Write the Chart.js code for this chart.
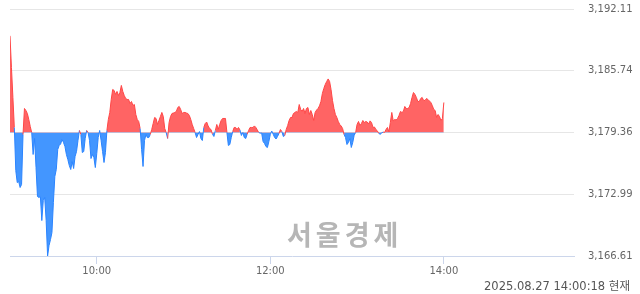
<!DOCTYPE html>
<html lang="ko">
<head>
<meta charset="UTF-8" />
<title>코스피 장중 차트</title>
<style>
  * { box-sizing: border-box; }
  body {
    margin: 0;
    background: #fff;
  }
  #wrap {
    position: relative;
    width: 640px;
    height: 294px;
  }
  #chart {
    position: absolute;
    left: 0;
    top: 0;
  }
  #watermark {
    position: absolute;
    left: 287px;
    top: 220px;
    font-family: 'Noto Sans CJK KR', sans-serif;
    font-weight: 700;
    font-size: 27px;
    letter-spacing: 4px;
    line-height: 28px;
    color: #b6b6b6;
    white-space: nowrap;
  }
  #stamp {
    position: absolute;
    right: 10px;
    top: 279px;
    font-family: 'DejaVu Sans', 'Noto Sans CJK KR', sans-serif;
    font-size: 11.5px;
    line-height: 14px;
    color: #555;
    white-space: nowrap;
  }
</style>
</head>
<body>
<div id="wrap">
  <canvas id="chart" width="640" height="294"></canvas>
  <div id="watermark">서울경제</div>
  <div id="stamp">2025.08.27 14:00:18 현재</div>
</div>

<script src="https://cdn.jsdelivr.net/npm/chart.js"></script>
<script>
  // 전일 종가 (기준선)
  const baseline = 3179.36;

  // 09:00 부터 1분 간격 지수 값 (09:00 ~ 14:00)
  const values = [
    3189.34, 3186.07, 3182.98, 3179.88, 3175.43, 3174.19, 3174.30, 3173.68, 3173.99, 3179.15,
    3181.84, 3181.63, 3181.32, 3180.70, 3179.98, 3179.36, 3177.09, 3178.74, 3175.74, 3172.75,
    3172.65, 3172.75, 3170.27, 3172.34, 3172.65, 3170.27, 3166.61, 3167.69, 3168.31, 3169.03,
    3172.13, 3174.81, 3175.54, 3177.60, 3178.02, 3178.17, 3178.64, 3178.33, 3177.91, 3177.09,
    3176.57, 3175.95, 3175.54, 3176.36, 3175.64, 3176.88, 3177.40, 3178.53, 3179.57, 3179.15,
    3177.29, 3177.40, 3178.74, 3179.57, 3179.36, 3178.53, 3176.67, 3177.09, 3176.78, 3175.74,
    3177.19, 3178.84, 3179.57, 3178.53, 3177.40, 3176.26, 3177.29, 3179.57, 3180.70, 3181.43,
    3182.77, 3183.80, 3183.70, 3183.29, 3183.60, 3183.18, 3183.49, 3184.22, 3183.60, 3183.18,
    3182.87, 3182.77, 3182.77, 3182.36, 3182.56, 3182.15, 3182.25, 3181.22, 3180.70, 3180.50,
    3179.77, 3177.60, 3175.85, 3178.53, 3179.15, 3178.84, 3178.84, 3179.15, 3179.67, 3180.29,
    3180.91, 3180.81, 3180.19, 3180.60, 3181.01, 3181.43, 3181.01, 3179.77, 3179.36, 3178.74,
    3180.39, 3181.01, 3181.32, 3181.37, 3181.43, 3181.53, 3181.94, 3182.05, 3181.74, 3181.32,
    3181.43, 3181.43, 3181.37, 3181.32, 3181.12, 3180.70, 3180.19, 3179.77, 3179.36, 3178.84,
    3179.15, 3179.46, 3178.74, 3178.53, 3179.88, 3180.29, 3180.44, 3180.04, 3179.77, 3179.67,
    3179.18, 3178.95, 3179.57, 3180.19, 3179.67, 3180.19, 3180.60, 3180.81, 3180.81, 3180.81,
    3179.36, 3178.02, 3178.12, 3178.84, 3179.46, 3179.88, 3179.88, 3179.67, 3179.88, 3179.62,
    3179.05, 3179.36, 3178.84, 3178.74, 3179.18, 3179.57, 3179.88, 3179.88, 3179.88, 3180.04,
    3179.88, 3179.62, 3179.36, 3179.29, 3179.31, 3178.43, 3178.22, 3177.91, 3177.81, 3178.43,
    3179.15, 3179.51, 3179.18, 3178.84, 3178.69, 3178.95, 3179.26, 3179.67, 3179.46, 3178.95,
    3179.05, 3179.67, 3180.08, 3180.60, 3180.91, 3180.91, 3181.32, 3181.43, 3181.53, 3181.43,
    3182.25, 3181.74, 3181.53, 3181.84, 3181.32, 3181.84, 3181.94, 3181.22, 3181.63, 3181.22,
    3180.60, 3181.43, 3181.68, 3181.84, 3182.11, 3182.56, 3183.39, 3183.91, 3184.32, 3184.63,
    3184.89, 3184.63, 3183.80, 3182.67, 3181.84, 3181.22, 3180.91, 3180.50, 3180.19, 3180.03,
    3179.77, 3179.15, 3178.84, 3178.12, 3178.33, 3178.74, 3177.81, 3178.33, 3179.08, 3179.36,
    3180.19, 3180.50, 3180.08, 3180.29, 3180.60, 3180.39, 3180.50, 3180.44, 3180.24, 3180.56,
    3180.39, 3179.88, 3179.93, 3179.67, 3179.53, 3179.26, 3179.18, 3179.31, 3179.41, 3179.36,
    3179.67, 3179.88, 3179.42, 3180.39, 3181.43, 3180.56, 3180.70, 3180.66, 3180.81, 3181.12,
    3181.53, 3181.43, 3181.53, 3182.05, 3181.84, 3181.84, 3181.94, 3182.36, 3182.98, 3183.49,
    3183.29, 3182.98, 3182.56, 3182.56, 3182.87, 3182.98, 3182.67, 3182.67, 3182.87, 3182.77,
    3182.62, 3182.46, 3182.15, 3181.74, 3181.63, 3180.91, 3181.22, 3181.01, 3180.60, 3180.81,
    3182.46
  ];

  // x축: 09:00 기준 분 단위 (장 마감 15:30 = 390분)
  const sessionMinutes = 390;
  const xTicks = [60, 180, 300];
  const xTickLabels = ['10:00', '12:00', '14:00'];

  // y축 눈금
  const yTicks = [3166.61, 3172.99, 3179.36, 3185.74, 3192.11];

  const RED_FILL = '#ff6464';
  const RED_LINE = '#ff4646';
  const BLUE_FILL = '#4396ff';
  const BLUE_LINE = '#2a84ff';

  Chart.defaults.font.family = "'DejaVu Sans', sans-serif";
  Chart.defaults.font.size = 10;
  Chart.defaults.color = '#666';

  const points = values.map((v, i) => ({ x: i, y: v }));

  const ctx = document.getElementById('chart').getContext('2d');
  new Chart(ctx, {
    type: 'line',
    data: {
      datasets: [{
        data: points,
        borderWidth: 1,
        borderColor: RED_LINE,
        pointRadius: 0,
        tension: 0,
        fill: {
          target: { value: baseline },
          above: RED_FILL,
          below: BLUE_FILL
        },
        segment: {
          borderColor: c => ((c.p0.parsed.y + c.p1.parsed.y) / 2 >= baseline ? RED_LINE : BLUE_LINE)
        }
      }]
    },
    options: {
      responsive: false,
      animation: false,
      layout: { padding: { left: 10, top: 0, right: 0, bottom: 0 } },
      plugins: {
        legend: { display: false },
        tooltip: { enabled: false }
      },
      scales: {
        x: {
          type: 'linear',
          min: 0,
          max: sessionMinutes,
          afterBuildTicks: s => { s.ticks = xTicks.map(v => ({ value: v })); },
          afterFit: s => { s.height = 38; },
          ticks: {
            autoSkip: false,
            maxRotation: 0,
            padding: 1,
            color: '#666',
            callback: (v, i) => xTickLabels[i]
          },
          grid: {
            drawOnChartArea: false,
            drawTicks: true,
            tickLength: 8,
            color: '#ccd6eb'
          },
          border: { display: true, color: '#ccd6eb' }
        },
        y: {
          position: 'right',
          min: yTicks[0],
          max: yTicks[yTicks.length - 1],
          afterBuildTicks: s => { s.ticks = yTicks.map(v => ({ value: v })); },
          afterFit: s => { s.width = 66; },
          ticks: {
            padding: 3,
            color: '#666',
            callback: v => v.toLocaleString('en-US', { minimumFractionDigits: 2, maximumFractionDigits: 2 })
          },
          grid: {
            drawTicks: true,
            tickLength: 11,
            tickColor: 'rgba(0,0,0,0)',
            color: c => (c.index === 0 ? 'rgba(0,0,0,0)' : '#e6e6e6')
          },
          border: { display: false }
        }
      }
    }
  });
</script>
</body>
</html>
